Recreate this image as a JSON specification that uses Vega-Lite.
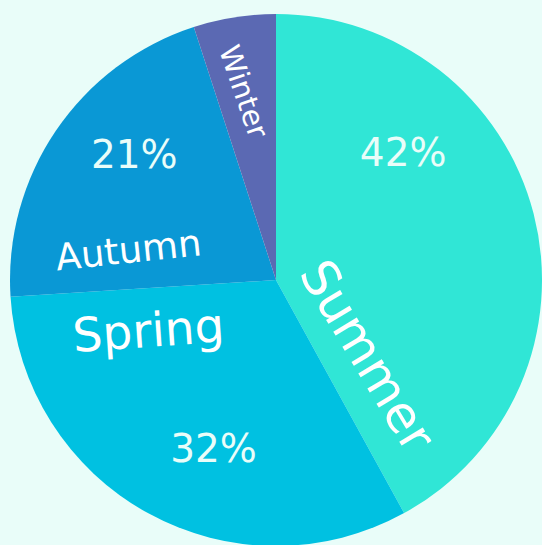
{
  "$schema": "https://vega.github.io/schema/vega-lite/v6.json",
  "width": 532,
  "height": 532,
  "padding": {"left": 10, "top": 14, "right": 0, "bottom": 0},
  "background": "#e9fdf9",
  "config": {"view": {"stroke": null}},
  "data": {
    "values": [
      {"season": "Summer", "share": 0.42, "rank": 1},
      {"season": "Spring", "share": 0.32, "rank": 2},
      {"season": "Autumn", "share": 0.21, "rank": 3},
      {"season": "Winter", "share": 0.05, "rank": 4}
    ]
  },
  "encoding": {
    "theta": {"field": "share", "type": "quantitative", "stack": true},
    "order": {"field": "rank", "type": "quantitative"},
    "detail": {"field": "season", "type": "nominal"}
  },
  "layer": [
    {
      "mark": {"type": "arc", "strokeWidth": 0},
      "encoding": {
        "color": {
          "field": "season",
          "type": "nominal",
          "scale": {"domain": ["Summer", "Spring", "Autumn", "Winter"], "range": ["#30e6d6", "#00c1e1", "#0a98d5", "#5b69b3"]},
          "legend": null
        }
      }
    },
    {
      "mark": {"type": "text", "font": "DejaVu Sans", "fontSize": 39, "fill": "#e9fdf9", "radius": 179, "thetaOffset": -0.529, "align": "center", "baseline": "middle"},
      "encoding": {"text": {"condition": {"test": "datum.season === 'Summer'", "field": "share", "type": "quantitative", "format": ".0%"}, "value": ""}}
    },
    {
      "mark": {"type": "text", "font": "DejaVu Sans", "fontSize": 39, "fill": "#e9fdf9", "radius": 181, "thetaOffset": -0.150, "align": "center", "baseline": "middle"},
      "encoding": {"text": {"condition": {"test": "datum.season === 'Spring'", "field": "share", "type": "quantitative", "format": ".0%"}, "value": ""}}
    },
    {
      "mark": {"type": "text", "font": "DejaVu Sans", "fontSize": 39, "fill": "#e9fdf9", "radius": 188, "thetaOffset": 0.120, "align": "center", "baseline": "middle"},
      "encoding": {"text": {"condition": {"test": "datum.season === 'Autumn'", "field": "share", "type": "quantitative", "format": ".0%"}, "value": ""}}
    },
    {
      "mark": {"type": "text", "font": "DejaVu Sans", "fontSize": 50, "fill": "#ffffff", "radius": 118, "thetaOffset": 0.958, "angle": 59, "align": "center", "baseline": "middle"},
      "encoding": {"text": {"condition": {"test": "datum.season === 'Summer'", "field": "season", "type": "nominal"}, "value": ""}}
    },
    {
      "mark": {"type": "text", "font": "DejaVu Sans", "fontSize": 47, "fill": "#ffffff", "radius": 138, "thetaOffset": 0.675, "angle": -4, "align": "center", "baseline": "middle"},
      "encoding": {"text": {"condition": {"test": "datum.season === 'Spring'", "field": "season", "type": "nominal"}, "value": ""}}
    },
    {
      "mark": {"type": "text", "font": "DejaVu Sans", "fontSize": 37, "fill": "#ffffff", "radius": 150, "thetaOffset": -0.408, "angle": -6, "align": "center", "baseline": "middle"},
      "encoding": {"text": {"condition": {"test": "datum.season === 'Autumn'", "field": "season", "type": "nominal"}, "value": ""}}
    },
    {
      "mark": {"type": "text", "font": "DejaVu Sans", "fontSize": 29, "fill": "#ffffff", "radius": 191, "thetaOffset": -0.017, "angle": 71, "align": "center", "baseline": "middle"},
      "encoding": {"text": {"condition": {"test": "datum.season === 'Winter'", "field": "season", "type": "nominal"}, "value": ""}}
    }
  ]
}
